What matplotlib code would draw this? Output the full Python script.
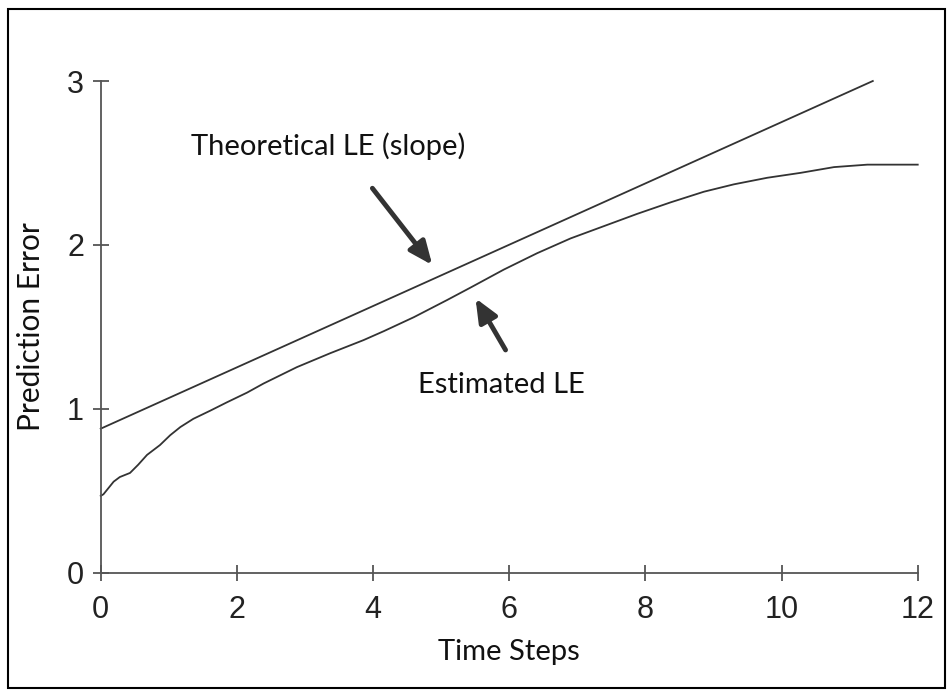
import matplotlib
matplotlib.use('Agg')
import matplotlib.pyplot as plt
from matplotlib.patches import Rectangle

# theoretical LE: a straight line (slope)
theory_t = [0.0, 11.34]
theory_err = [0.88, 3.0]

# estimated LE
est_t = [0.0, 0.04, 0.19, 0.28, 0.43, 0.55, 0.68, 0.87, 1.02, 1.17, 1.36, 1.61,
         1.85, 2.15, 2.39, 2.88, 3.37, 3.86, 4.16, 4.60, 5.09, 5.43, 5.92, 6.41,
         6.90, 7.39, 7.88, 8.37, 8.86, 9.30, 9.79, 10.28, 10.77, 11.26, 12.0]
est_err = [0.47, 0.48, 0.557, 0.585, 0.61, 0.66, 0.72, 0.78, 0.84, 0.89, 0.94,
           0.99, 1.04, 1.10, 1.155, 1.255, 1.34, 1.42, 1.475, 1.56, 1.665, 1.74,
           1.85, 1.95, 2.04, 2.115, 2.19, 2.26, 2.325, 2.37, 2.41, 2.44, 2.475,
           2.49, 2.49]

x_ticks = [0, 2, 4, 6, 8, 10, 12]
y_ticks = [0, 1, 2, 3]

ink = '#333333'
label_font = 'Lato'
tick_font = 'Liberation Sans'

fig = plt.figure(figsize=(9.53, 6.93), dpi=100)
ax = fig.add_axes([0.1057, 0.1732, 0.8573, 0.7099])

ax.plot(theory_t, theory_err, color=ink, lw=1.3, clip_on=False)
ax.plot(est_t, est_err, color=ink, lw=1.3, clip_on=False)

ax.set_xlim(0, 12)
ax.set_ylim(0, 3)
ax.set_xticks(x_ticks)
ax.set_yticks(y_ticks)
for s in ['top', 'right']:
    ax.spines[s].set_visible(False)
for s in ['left', 'bottom']:
    ax.spines[s].set_color('#555555')
    ax.spines[s].set_linewidth(1.3)
ax.tick_params(direction='inout', length=12, width=1.3, color='#555555',
               labelcolor='#222222')
ax.tick_params(axis='x', pad=10)
ax.tick_params(axis='y', pad=6)
for lab in ax.get_xticklabels() + ax.get_yticklabels():
    lab.set_family(tick_font)
    lab.set_fontsize(22)

ax.set_xlabel('Time Steps', fontsize=21, family=label_font, color='#111111', labelpad=10)
ax.set_ylabel('Prediction Error', fontsize=21.5, family=label_font, color='#111111', labelpad=16)

ax.text(3.335, 2.60, 'Theoretical LE (slope)', fontsize=21, family=label_font,
        color='#111111', ha='center', va='center')
ax.text(5.887, 1.146, 'Estimated LE', fontsize=21, family=label_font,
        color='#111111', ha='center', va='center')

arrow = dict(arrowstyle='-|>,head_length=1.4,head_width=0.6', color=ink, lw=3.5,
             shrinkA=0, shrinkB=0)
ax.annotate('', xy=(4.87, 1.878), xytext=(3.99, 2.346), arrowprops=arrow)
ax.annotate('', xy=(5.505, 1.675), xytext=(5.946, 1.360), arrowprops=arrow)

# outer frame around the whole picture
fig.patches.append(Rectangle((8 / 953, 5 / 693), 937 / 953, 679 / 693,
                             transform=fig.transFigure, fill=False,
                             edgecolor='black', lw=1.5))

fig.savefig('out.png', dpi=100)
